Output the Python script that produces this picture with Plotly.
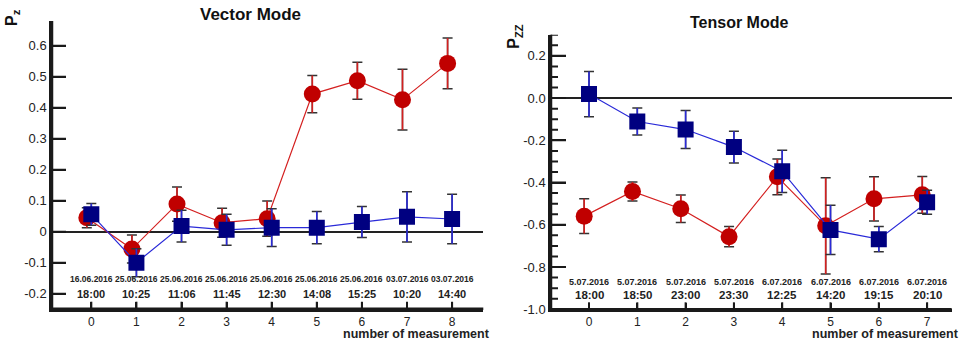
import plotly.graph_objects as go

W, H = 963, 344
FONT = "Liberation Sans"

# ---------------- data ----------------
vec_x = [0, 1, 2, 3, 4, 5, 6, 7, 8]
vec_red = [0.045, -0.056, 0.089, 0.029, 0.042, 0.444, 0.487, 0.426, 0.543]
vec_red_err = [0.032, 0.045, 0.055, 0.047, 0.057, 0.060, 0.060, 0.098, 0.082]
vec_blue = [0.056, -0.100, 0.018, 0.006, 0.013, 0.013, 0.031, 0.048, 0.041]
vec_blue_err = [0.035, 0.045, 0.051, 0.050, 0.061, 0.052, 0.050, 0.081, 0.080]
vec_dates = ["16.06.2016", "25.06.2016", "25.06.2016", "25.06.2016", "25.06.2016",
             "25.06.2016", "25.06.2016", "03.07.2016", "03.07.2016"]
vec_times = ["18:00", "10:25", "11:06", "11:45", "12:30", "14:08", "15:25", "10:20", "14:40"]
vec_ytick_vals = [-0.2, -0.1, 0, 0.1, 0.2, 0.3, 0.4, 0.5, 0.6]
vec_ytick_text = ["-0.2", "-0.1", "0", "0.1", "0.2", "0.3", "0.4", "0.5", "0.6"]

ten_x = [0, 1, 2, 3, 4, 5, 6, 7]
ten_red = [-0.559, -0.442, -0.524, -0.656, -0.373, -0.605, -0.477, -0.458]
ten_red_err = [0.082, 0.045, 0.065, 0.048, 0.085, 0.228, 0.105, 0.087]
ten_blue = [0.019, -0.111, -0.149, -0.232, -0.347, -0.624, -0.668, -0.493]
ten_blue_err = [0.107, 0.064, 0.090, 0.075, 0.100, 0.117, 0.060, 0.057]
ten_dates = ["5.07.2016", "5.07.2016", "5.07.2016", "5.07.2016",
             "6.07.2016", "6.07.2016", "6.07.2016", "6.07.2016"]
ten_times = ["18:00", "18:50", "23:00", "23:30", "12:25", "14:20", "19:15", "20:10"]
ten_ytick_vals = [-1.0, -0.8, -0.6, -0.4, -0.2, 0.0, 0.2]
ten_ytick_text = ["-1.0", "-0.8", "-0.6", "-0.4", "-0.2", "0.0", "0.2"]
ten_minor_vals = [-0.95, -0.9, -0.85, -0.75, -0.7, -0.65, -0.55, -0.5, -0.45,
                  -0.35, -0.3, -0.25, -0.15, -0.1, -0.05, 0.05, 0.1, 0.15,
                  0.25, 0.3]

RED_SHIFT = -0.1

RED_M = "#c00000"
RED_L = "#d42020"
BLUE_M = "#000080"
BLUE_L = "#2a2ad8"
CAP = "#333333"
AX = "#1a1a1a"

L_X0, L_X1, L_Y0, L_Y1 = 52, 483.3, 308.7, 21
R_X0, R_X1, R_Y0, R_Y1 = 551, 951.7, 309.3, 34.7

fig = go.Figure()


def add_series(x, y, err, xa, ya, mcol, lcol, symbol, size):
    fig.add_trace(go.Scatter(
        x=x, y=y, mode="markers", xaxis=xa, yaxis=ya,
        marker=dict(color="rgba(0,0,0,0)", size=1),
        error_y=dict(type="data", array=err, visible=True, color=CAP,
                     thickness=1.5, width=5),
        hoverinfo="skip", showlegend=False))
    fig.add_trace(go.Scatter(
        x=x, y=y, mode="lines+markers", xaxis=xa, yaxis=ya,
        line=dict(color=lcol, width=1.2),
        marker=dict(color=mcol, size=size, symbol=symbol, line=dict(width=0)),
        error_y=dict(type="data", array=err, visible=True, color=lcol,
                     thickness=1.6, width=0),
        showlegend=False))


add_series([v + RED_SHIFT for v in vec_x], vec_red, vec_red_err, "x", "y",
           RED_M, RED_L, "circle", 17)
add_series(vec_x, vec_blue, vec_blue_err, "x", "y",
           BLUE_M, BLUE_L, "square", 16)
add_series([v + RED_SHIFT for v in ten_x], ten_red, ten_red_err, "x2", "y2",
           RED_M, RED_L, "circle", 17)
add_series(ten_x, ten_blue, ten_blue_err, "x2", "y2",
           BLUE_M, BLUE_L, "square", 16)

tickfont_y = dict(family=FONT, size=13, color="#222")
tickfont_x = dict(family=FONT, size=12, color="#222")


def axis(**kw):
    base = dict(showline=True, linecolor=AX, linewidth=2.5, showgrid=False,
                zeroline=False, ticks="inside", tickcolor=AX, tickwidth=2)
    base.update(kw)
    return base


fig.update_layout(
    width=W, height=H, autosize=False,
    margin=dict(l=0, r=0, t=0, b=0, pad=0, autoexpand=False),
    paper_bgcolor="white", plot_bgcolor="white",
    xaxis=axis(domain=[L_X0 / W, L_X1 / W], range=[-0.872, 8.692], anchor="y",
               tickvals=vec_x, ticktext=[str(v) for v in vec_x], ticklen=7,
               tickfont=tickfont_x),
    yaxis=axis(domain=[1 - L_Y0 / H, 1 - L_Y1 / H], range=[-0.2484, 0.6797],
               anchor="x", tickvals=vec_ytick_vals, ticktext=vec_ytick_text,
               ticklen=14, tickfont=tickfont_y,
               zeroline=True, zerolinecolor="#222", zerolinewidth=1.5),
    xaxis2=axis(domain=[R_X0 / W, R_X1 / W], range=[-0.787, 7.509], anchor="y2",
                tickvals=ten_x, ticktext=[str(v) for v in ten_x], ticklen=7,
                tickfont=tickfont_x),
    yaxis2=axis(domain=[1 - R_Y0 / H, 1 - R_Y1 / H], range=[-1.0, 0.3],
                anchor="x2", tickvals=ten_ytick_vals, ticktext=ten_ytick_text,
                ticklen=15, tickfont=tickfont_y,
                zeroline=True, zerolinecolor="#222", zerolinewidth=1.5),
)

shapes = []
ln = dict(color=AX, width=2.5)


def seg(xref, yref, x0, x1, y0, y1, w=2.5):
    shapes.append(dict(type="line", xref=xref, yref=yref, x0=x0, x1=x1,
                       y0=y0, y1=y1, line=dict(color=AX, width=w), layer="above"))


for xr, yr, x0p, x1p, y0p, y1p, xt, yt, ymaj_len, ymin in [
        ("x", "y", L_X0, L_X1, L_Y0, L_Y1, vec_x, vec_ytick_vals, 14, []),
        ("x2", "y2", R_X0, R_X1, R_Y0, R_Y1, ten_x, ten_ytick_vals, 15, ten_minor_vals)]:
    wpx = x1p - x0p
    hpx = y0p - y1p
    seg(f"{xr} domain", f"{yr} domain", 0, 0, 0, 1)
    seg(f"{xr} domain", f"{yr} domain", 0, 1, 0, 0)
    for v in yt:
        seg(f"{xr} domain", yr, 0, ymaj_len / wpx, v, v, 2)
    for v in ymin:
        seg(f"{xr} domain", yr, 0, 7 / wpx, v, v, 2)
    for v in xt:
        seg(xr, f"{yr} domain", v, v, 0, 7 / hpx, 2)

fig.update_layout(shapes=shapes)

ann = []
ann.append(dict(text="<b>Vector Mode</b>", x=250.5 / W, y=1 - 15 / H, xref="paper",
                yref="paper", showarrow=False, xanchor="center", yanchor="middle",
                font=dict(family=FONT, size=17, color="#111")))
ann.append(dict(text="<b>Tensor Mode</b>", x=739 / W, y=1 - 22.5 / H, xref="paper",
                yref="paper", showarrow=False, xanchor="center", yanchor="middle",
                font=dict(family=FONT, size=16, color="#111")))
ann.append(dict(text="<b>P<sub>z</sub></b>", x=13 / W, y=1 - 18 / H, xref="paper",
                yref="paper", showarrow=False, textangle=-90, xanchor="center",
                yanchor="middle", font=dict(family=FONT, size=16, color="#111")))
ann.append(dict(text="<b>P<sub>ZZ</sub></b>", x=515 / W, y=1 - 36.7 / H, xref="paper",
                yref="paper", showarrow=False, textangle=-90, xanchor="center",
                yanchor="middle", font=dict(family=FONT, size=16, color="#111")))
ann.append(dict(text="<b>number of measurement</b>", x=416.7 / W, y=1 - 334 / H,
                xref="paper", yref="paper", showarrow=False, xanchor="center",
                yanchor="middle", font=dict(family=FONT, size=12.5, color="#222")))
ann.append(dict(text="<b>number of measurement</b>", x=885 / W, y=1 - 334 / H,
                xref="paper", yref="paper", showarrow=False, xanchor="center",
                yanchor="middle", font=dict(family=FONT, size=12.5, color="#222")))

for xv, d, t in zip(vec_x, vec_dates, vec_times):
    ann.append(dict(text=f"<b>{d}</b>", x=xv, y=1 - 279.3 / H, xref="x", yref="paper",
                    showarrow=False, xanchor="center", yanchor="middle",
                    font=dict(family=FONT, size=8.5, color="#222")))
    ann.append(dict(text=f"<b>{t}</b>", x=xv, y=1 - 294 / H, xref="x", yref="paper",
                    showarrow=False, xanchor="center", yanchor="middle",
                    font=dict(family=FONT, size=11, color="#222")))
for xv, d, t in zip(ten_x, ten_dates, ten_times):
    ann.append(dict(text=f"<b>{d}</b>", x=xv, y=1 - 281.7 / H, xref="x2", yref="paper",
                    showarrow=False, xanchor="center", yanchor="middle",
                    font=dict(family=FONT, size=9, color="#222")))
    ann.append(dict(text=f"<b>{t}</b>", x=xv, y=1 - 295 / H, xref="x2", yref="paper",
                    showarrow=False, xanchor="center", yanchor="middle",
                    font=dict(family=FONT, size=11.5, color="#222")))

fig.update_layout(annotations=ann)

fig.write_html("out.html")
